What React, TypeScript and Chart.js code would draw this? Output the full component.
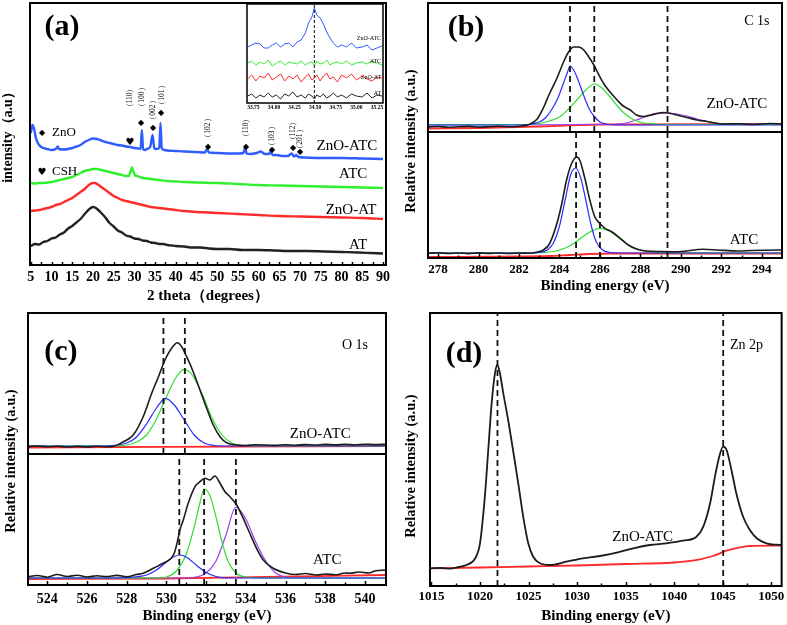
import React, { useEffect, useRef } from "react";
import { Chart, registerables } from "chart.js";
Chart.register(...registerables);

type P = [number, number];

const SERIF = "'Liberation Serif', 'Times New Roman', serif";
const SYM = "'DejaVu Sans', sans-serif";

// ---------------- (a) XRD ----------------
const A_TICKS = [5, 10, 15, 20, 25, 30, 35, 40, 45, 50, 55, 60, 65, 70, 75, 80, 85, 90];
const A_AT: P[] = [[5,19],[6,21],[7,20.5],[8,23],[9,24],[10,26.5],[11,27.5],[12,30.5],[13,32.5],[14,36.5],[15,39],[16,42.5],[17,46],[18,51],[19,55.5],[20,58],[20.5,57.5],[21,56],[22,52],[23,47.5],[24,42],[25,38.5],[26,34.5],[27,32.5],[28,29.5],[29,28.5],[30,26.5],[31,26],[32,24.5],[33,24],[34,22.5],[35,22],[36,21],[37,21],[38,20],[39,19.5],[40,19],[42,18.5],[44,17.5],[46,17.5],[48,16.5],[50,16],[53,16],[56,15],[60,15],[64,14.5],[68,14],[72,14],[76,13.5],[80,13],[84,12.5],[87,12],[90,11.5]];
const A_ZNO_AT: P[] = [[5,54],[6,54.5],[7,55],[8,56],[9,57],[10,58],[11,60],[12,61],[13,63],[14,65],[15,67],[16,70],[17,73],[18,76],[19,80],[20,82],[20.5,82],[21,81],[22,78],[23,75],[24,72],[25,69],[26,67],[27,65],[28,64],[29,63],[30,62],[31,61],[32,60],[33,59],[34,58],[35,57.5],[36,57],[38,56],[40,55],[42,54],[45,53],[48,52.5],[50,52],[55,51],[60,50],[65,49],[70,48.5],[75,48],[80,47.5],[85,47],[90,46]];
const A_ATC: P[] = [[5,82],[6,81.5],[7,82],[8,82],[9,82.5],[10,83],[11,84],[12,85],[13,86],[14,87],[15,88],[16,90],[17,92],[18,94],[19,95],[20,96],[21,96],[22,95],[23,94],[24,93],[25,92],[26,91],[27,90],[28,89],[28.7,89],[29.1,94],[29.4,97.5],[29.7,94],[30.1,90],[30.6,89],[31,88.5],[32,87],[33,86.5],[34,86],[35,85.5],[36,85],[38,84],[40,83.5],[42,83],[45,82.5],[50,82],[55,81],[60,80],[65,79.5],[70,79],[75,78.5],[80,78],[85,77.5],[90,77]];
const A_ZNO_ATC: P[] = [[5,132],[5.4,140],[5.8,136],[6.3,126],[7,120],[8,117],[9,116],[10,115],[11,116],[11.5,118.5],[11.8,116],[13,115.5],[14,116],[15,117],[16,118.5],[17,120],[18,123],[19,125],[20,126.5],[21,126],[22,124.5],[23,123],[24,122],[25,121],[26,120],[27,119.5],[28,118.5],[29,118],[30,117],[31,116.5],[31.5,116],[31.8,135],[32.1,116],[32.5,115],[33,116],[33.8,118],[34.4,130],[34.8,117],[35.3,116],[36,117],[36.3,142],[36.6,117],[37.2,115],[38,114.5],[40,114],[42,113.5],[45,113],[47,112.5],[47.5,116],[48,112.5],[50,112],[53,111.5],[55,111.5],[56.3,112],[56.7,117],[57.1,111.5],[58,111],[59.5,112],[60.5,113.5],[61.5,111],[62.5,111],[62.9,114],[63.3,110],[64,110],[65,109.5],[66,109],[67,109],[68,111.5],[68.5,108.5],[69.1,110],[69.6,108],[71,107.5],[75,107],[80,107],[85,106.5],[90,106]];

// inset
const IN_TICKS = [33.75, 34.0, 34.25, 34.5, 34.75, 35.0, 35.25];
const IN_DASH = [34.49];
const IN_X = [33.68,33.73,33.78,33.83,33.88,33.93,33.98,34.03,34.08,34.13,34.18,34.23,34.28,34.33,34.38,34.42,34.46,34.49,34.52,34.56,34.6,34.64,34.68,34.72,34.77,34.82,34.88,34.94,35.0,35.07,35.13,35.19,35.25,35.31];
const IN_ZNO_ATC = [56,58,60,59,55,55,58,60,56,59,60,56,61,63,70,80,86,95,88,85,79,71,65,60,56,58,56,60,55,56,58,53,55,57];
const IN_ATC = [40,42,38,41,39,43,37,40,42,38,41,40,39,42,38,40,41,37,42,39,40,43,38,40,41,39,42,38,40,41,39,42,40,38];
const IN_ZNO_AT = [24,28,22,27,25,30,23,26,29,22,27,24,28,21,26,29,23,25,28,22,27,30,24,26,21,28,25,29,23,27,24,22,26,25];
const IN_AT = [7,9,5,8,6,10,6,8,4,9,7,11,6,8,5,9,7,4,8,6,9,5,7,10,6,8,5,9,7,6,10,5,8,7];

// ---------------- (b) C 1s ----------------
const B_TICKS = [278, 280, 282, 284, 286, 288, 290, 292, 294];
const B_TOP_DASH = [284.52, 285.72, 289.34];
const B_BOT_DASH = [284.82, 286.0, 289.34];
const B_TOP_SUM: P[] = [[277.5,5],[278,5.5],[278.5,4.8],[279,5.2],[279.5,5.6],[280,4.9],[280.5,5.3],[281,5.7],[281.5,5.2],[282,5.8],[282.5,7.5],[282.9,13],[283.2,24],[283.5,38],[283.9,55],[284.2,70],[284.45,80],[284.7,85],[284.95,85],[285.2,82],[285.45,75],[285.7,67],[285.95,57],[286.2,48],[286.5,40],[286.85,32],[287.15,26],[287.5,22],[287.8,17],[288.15,15.5],[288.5,17],[288.8,18.5],[289.15,19.5],[289.5,18.5],[289.8,17],[290.3,14.5],[290.8,12],[291.3,10.5],[292,8],[292.8,8.3],[293.6,7.5],[294.4,8.5],[295,8]];
const B_TOP_C1: P[] = [[277.5,7],[282,7],[282.5,7.5],[283,10],[283.3,14],[283.6,22],[283.9,33],[284.2,49],[284.4,60],[284.52,66],[284.7,62],[284.9,53],[285.1,42],[285.3,31],[285.5,22],[285.7,16],[286,10],[286.3,8],[286.8,7],[295,7]];
const B_TOP_C2: P[] = [[277.5,7.5],[282.5,7.5],[283,8.5],[283.5,11],[284,15],[284.5,24],[284.9,33],[285.3,42],[285.72,48],[286.1,44],[286.5,35],[286.9,25],[287.3,17],[287.7,12],[288.2,9],[288.8,8],[289.5,7.5],[295,7.5]];
const B_TOP_C3: P[] = [[277.5,7],[286.5,7.5],[287.3,9],[287.8,12],[288.3,15.5],[288.8,18],[289.3,19],[289.8,18],[290.3,16],[290.8,13],[291.3,10.5],[291.9,8.5],[292.5,8],[295,8]];
const B_TOP_BG: P[] = [[277.5,3.5],[280,4],[282,5],[283,5.5],[284,6.2],[285,7],[286,7.5],[288,7.7],[295,7.8]];
const B_BOT_SUM: P[] = [[277.5,4.7],[278,5.2],[278.5,4.5],[279,5],[279.5,4.4],[280,5.1],[280.5,4.6],[281,5],[281.5,4.5],[282,5],[282.5,4.8],[282.9,6],[283.2,8],[283.5,14],[283.85,33],[284.1,53],[284.35,78],[284.6,94.5],[284.85,101],[285.0,98],[285.25,80],[285.5,58],[285.75,41],[286.0,34.5],[286.25,29.7],[286.6,26],[287.0,19.7],[287.4,13],[287.8,9],[288.3,7],[289.0,6.5],[289.5,6.3],[290.2,6.8],[291.1,8.7],[291.8,8],[292.8,7],[293.5,7.5],[294.3,7.8],[295,8]];
const B_BOT_C1: P[] = [[277.5,5],[282.5,5],[283,5.5],[283.4,8],[283.7,15],[284,32],[284.3,60],[284.55,83],[284.8,90],[285.05,80],[285.3,58],[285.55,34],[285.8,17],[286.1,8.5],[286.5,5.5],[287,5],[295,5]];
const B_BOT_C2: P[] = [[277.5,5],[282.5,5],[283.5,6],[284,8],[284.5,12],[285,19],[285.5,26],[286,29.7],[286.5,26.5],[287,19],[287.5,12],[288,8],[288.5,6],[289.5,5],[295,5]];
const B_BOT_BG: P[] = [[277.5,1],[282,1.5],[283.5,2],[284.5,3],[285.5,4],[286.5,4.5],[295,4.5]];

// ---------------- (c) O 1s ----------------
const C_TICKS = [524, 526, 528, 530, 532, 534, 536, 538, 540];
const C_TOP_DASH = [529.85, 530.93];
const C_BOT_DASH = [530.65, 531.9, 533.5];
const C_TOP_SUM: P[] = [[523.03,7.3],[523.5,8],[524,7.2],[524.5,7.8],[525,7],[525.5,7.6],[526,7.1],[526.5,7.7],[527,7.2],[527.3,7.5],[527.83,12.3],[528.33,19],[528.83,37.3],[529.26,60.7],[529.6,77.3],[529.93,94],[530.26,105.7],[530.55,111.3],[530.77,107.3],[531.02,97.3],[531.35,82.3],[531.69,64],[532.03,45.7],[532.36,29],[532.7,17.3],[533.03,11.3],[533.54,9],[534,8.5],[534.5,9.2],[535,9],[535.5,8.6],[536,9.3],[536.5,8.8],[537,9.4],[537.5,9],[538,9.6],[538.5,9.1],[539,9.7],[539.5,9.3],[540,9.8],[540.5,9.4],[541.06,9.7]];
const C_TOP_C1: P[] = [[523.03,8],[526.5,8],[527.5,9],[528,11],[528.5,17],[529,30],[529.5,46],[529.96,55.7],[530.4,49],[530.9,34],[531.4,19],[531.9,11],[532.4,8.5],[533,8],[541.06,8]];
const C_TOP_C2: P[] = [[523.03,8],[527,8],[528,9],[528.5,12],[529,19],[529.5,35],[530,57],[530.5,77],[530.9,84.7],[531.3,79],[531.8,60],[532.3,36],[532.8,19],[533.3,11],[533.8,8.5],[534.5,8],[541.06,8]];
const C_TOP_BG: P[] = [[523.03,6.5],[530,7.2],[541.06,8]];
const C_BOT_SUM: P[] = [[523.03,8.3],[523.5,9.5],[524,7.8],[524.5,10.5],[525,8.5],[525.5,9.8],[526,8],[526.5,9.2],[527,8.4],[527.5,9.6],[528,8.3],[528.5,10.5],[528.83,11.7],[529.34,16.7],[529.84,21.7],[530.2,26],[530.4,32],[530.55,43],[530.68,55],[530.85,65],[531.1,81.7],[531.44,98.3],[531.69,103.3],[531.94,106.7],[532.19,105],[532.44,109],[532.7,101.7],[532.95,93.3],[533.2,88.3],[533.54,80],[533.87,66.7],[534.2,51.7],[534.54,36.7],[534.88,25],[535.38,16.7],[536.05,11.7],[536.5,10.5],[537,11.5],[537.56,10],[538,11],[538.5,10.2],[539,12],[539.24,11.7],[539.7,13],[540.2,12],[540.5,14],[541.06,15]];
const C_BOT_C1: P[] = [[523.03,7],[527,7],[528,7.5],[529,10],[529.5,15],[530,23],[530.4,28.5],[530.68,30],[531,28],[531.5,20],[532,12.5],[532.5,8.5],[533,7],[541.06,7]];
const C_BOT_C2: P[] = [[523.03,7],[529.5,7],[530,8],[530.5,14],[531,31],[531.4,58],[531.7,83],[531.9,96],[532.2,89],[532.5,68],[532.8,43],[533.1,24],[533.5,12],[534,8],[535,7],[541.06,7]];
const C_BOT_C3: P[] = [[523.03,7],[530.5,7],[531.5,8],[532,12],[532.5,24],[533,50],[533.5,78],[534,66],[534.5,43],[535,24],[535.5,12],[536,8],[537,7],[541.06,7]];
const C_BOT_BG: P[] = [[523.03,6],[530,6.5],[535,8],[541.06,10]];

// ---------------- (d) Zn 2p ----------------
const D_TICKS = [1015, 1020, 1025, 1030, 1035, 1040, 1045, 1050];
const D_DASH = [1021.8, 1045.05];
const D_SUM: P[] = [[1014.85,17.7],[1016,18],[1016.9,17.3],[1017.8,19],[1018.6,21],[1019.5,27.7],[1020,42.7],[1020.5,89.3],[1020.85,136],[1021.2,182.7],[1021.54,212.7],[1021.78,221],[1022.05,212.7],[1022.4,192.7],[1022.9,166],[1023.4,136],[1023.94,102.7],[1024.45,69.3],[1024.97,42.7],[1025.48,29.3],[1026.17,22.7],[1027.2,21],[1028.9,24.3],[1030.6,27.7],[1032.35,30],[1034.1,33.3],[1035.8,37.7],[1037.5,41],[1039.2,42.7],[1040.9,45.3],[1042.3,49.3],[1043,59.3],[1043.7,82.7],[1044.2,109.3],[1044.64,129.3],[1045.05,139.3],[1045.4,136],[1045.9,116],[1046.4,92.7],[1047.1,69.3],[1047.8,56],[1048.5,47.7],[1049.5,42.7],[1051.07,41]];
const D_BG: P[] = [[1014.85,17.7],[1020,18.5],[1025,19.5],[1030,20.5],[1035,22],[1040,23.5],[1042.65,26.7],[1044,30],[1045.4,35.3],[1046.8,38.7],[1047.8,40],[1051.07,40.3]];

// ---------------- colours ----------------
const K = "#1c1c1c";
const BLUE = "#2a2aff";
const GREEN = "#30dd30";
const PURPLE = "#9a3cf0";
const RED = "#ff2a2a";

// ---------------- helpers ----------------
const pts = (arr: P[]) => arr.map(([x, y]) => ({ x, y }));
const line = (arr: P[], color: string, width: number, smooth = true) => ({
  data: pts(arr),
  borderColor: color,
  borderWidth: width,
  pointRadius: 0,
  fill: false,
  ...(smooth ? { cubicInterpolationMode: "monotone" } : { tension: 0 }),
});
const zipLine = (xs: number[], ys: number[], color: string, width: number) =>
  line(xs.map((x, i) => [x, ys[i]] as P), color, width, false);
const vlines = (xs: number[], y0: number, y1: number, w = 1.8, dash = [6, 4]) =>
  xs.map((x) => ({
    data: [{ x, y: y0 }, { x, y: y1 }],
    borderColor: "#111",
    borderWidth: w,
    borderDash: dash,
    pointRadius: 0,
    fill: false,
  }));

type Txt = { text: string; x: number; y: number; font: string; align?: CanvasTextAlign; rot?: number; px?: boolean; color?: string };

const decor = (o: { texts?: Txt[]; ticks?: boolean; major?: number; minor?: number; frame?: number }) => ({
  id: "decor",
  afterDatasetsDraw(chart: any) {
    const { ctx, chartArea: a } = chart;
    const xs = chart.scales.x;
    const ys = chart.scales.y;
    ctx.save();
    ctx.strokeStyle = "#000";
    if (o.ticks) {
      const vals: number[] = xs.ticks.map((t: any) => t.value);
      ctx.lineWidth = 1.5;
      const seg = (v: number, len: number) => {
        const p = Math.round(xs.getPixelForValue(v)) + 0.5;
        ctx.beginPath();
        ctx.moveTo(p, a.bottom);
        ctx.lineTo(p, a.bottom - len);
        ctx.stroke();
      };
      vals.forEach((v, i) => {
        seg(v, o.major ?? 4);
        if (i < vals.length - 1) seg((v + vals[i + 1]) / 2, o.minor ?? 3);
      });
    }
    ctx.lineWidth = o.frame ?? 2;
    ctx.strokeRect(a.left, a.top, a.right - a.left, a.bottom - a.top);
    (o.texts || []).forEach((t) => {
      const x = t.px ? t.x : xs.getPixelForValue(t.x);
      const y = t.px ? t.y : ys.getPixelForValue(t.y);
      ctx.save();
      ctx.translate(x, y);
      if (t.rot) ctx.rotate((t.rot * Math.PI) / 180);
      ctx.font = t.font;
      ctx.fillStyle = t.color || "#000";
      ctx.textAlign = t.align || "center";
      ctx.textBaseline = "middle";
      ctx.fillText(t.text, 0, 0);
      ctx.restore();
    });
    ctx.restore();
  },
});

const hiddenAxis = (min: number, max: number) => ({ type: "linear", min, max, display: false });

const bottomAxis = (
  min: number,
  max: number,
  ticks: number[],
  h: number,
  size: number,
  pad: number,
  title: string | null,
  titlePad: number,
  fmt?: (v: number) => string,
  titleSize = 15
) => ({
  type: "linear",
  min,
  max,
  afterBuildTicks: (s: any) => {
    s.ticks = ticks.map((v) => ({ value: v }));
  },
  afterFit: (s: any) => {
    s.height = h;
  },
  grid: { display: false, drawTicks: false },
  border: { display: false },
  ticks: {
    autoSkip: false,
    maxRotation: 0,
    padding: pad,
    color: "#000",
    font: { family: SERIF, size, weight: "bold" },
    callback: (v: any) => (fmt ? fmt(Number(v)) : String(v)),
  },
  title: title
    ? { display: true, text: title, color: "#000", font: { family: SERIF, size: titleSize, weight: "bold" }, padding: { top: 0, bottom: titlePad } }
    : { display: false },
});

const baseCfg = (datasets: any[], pad: any, x: any, y: any, plugin: any) => ({
  type: "line",
  data: { datasets },
  options: {
    responsive: false,
    animation: false,
    devicePixelRatio: 1,
    events: [],
    layout: { padding: pad },
    plugins: { legend: { display: false }, tooltip: { enabled: false } },
    scales: { x, y },
  },
  plugins: [plugin],
});

const F_PANEL = `bold 30px ${SERIF}`;
const F_LAB = `15px ${SERIF}`;
const F_CORE = `14px ${SERIF}`;
const F_YT = `bold 14.5px ${SERIF}`;
const F_PEAK = `7.5px ${SERIF}`;
const F_DIA = `8px ${SYM}`;
const F_HEART = `10px ${SYM}`;
const YTITLE = "Relative intensity (a.u.)";
const XRD_W = 2.4;

// ---------------- chart specs ----------------
const specs = [
  // (a)
  {
    l: 0, t: 0, w: 400, h: 310,
    cfg: () =>
      baseCfg(
        [
          line(A_ZNO_ATC, "#2f5cff", XRD_W),
          line(A_ATC, "#30ee30", XRD_W),
          line(A_ZNO_AT, "#ff2b2b", XRD_W),
          line(A_AT, "#222", XRD_W),
        ],
        { left: 0, right: 14, top: 3, bottom: 0 },
        bottomAxis(4.8, 90.73, A_TICKS, 45, 14, 4, "2 theta（degrees）", 5),
        {
          type: "linear", min: 0, max: 262,
          afterFit: (s: any) => { s.width = 30; },
          ticks: { display: false },
          grid: { display: false, drawTicks: false },
          border: { display: false },
          title: { display: true, text: "intensity（a.u）", color: "#000", font: { family: SERIF, size: 14, weight: "bold" }, padding: { top: 0, bottom: 0 } },
        },
        decor({
          ticks: true, major: 3, minor: 3,
          texts: [
            { text: "(a)", x: 12.52, y: 238, font: F_PANEL },
            { text: "◆", x: 7.7, y: 132, font: F_DIA },
            { text: "ZnO", x: 10.1, y: 132, font: `13px ${SERIF}`, align: "left" },
            { text: "♥", x: 7.7, y: 93, font: F_HEART },
            { text: "CSH", x: 10.1, y: 93, font: `13px ${SERIF}`, align: "left" },
            { text: "ZnO-ATC", x: 81.3, y: 119, font: F_LAB },
            { text: "ATC", x: 82.8, y: 91, font: F_LAB },
            { text: "ZnO-AT", x: 82.3, y: 55, font: F_LAB },
            { text: "AT", x: 84.0, y: 20, font: F_LAB },
            { text: "（110）", x: 28.94, y: 167, font: F_PEAK, rot: -90 },
            { text: "（100）", x: 31.83, y: 168, font: F_PEAK, rot: -90 },
            { text: "（002）", x: 34.49, y: 155, font: F_PEAK, rot: -90 },
            { text: "（101）", x: 36.66, y: 170, font: F_PEAK, rot: -90 },
            { text: "（102）", x: 47.76, y: 137, font: F_PEAK, rot: -90 },
            { text: "（110）", x: 56.94, y: 137, font: F_PEAK, rot: -90 },
            { text: "（103）", x: 63.21, y: 129, font: F_PEAK, rot: -90 },
            { text: "（112）", x: 68.28, y: 134, font: F_PEAK, rot: -90 },
            { text: "（201）", x: 69.97, y: 126, font: F_PEAK, rot: -90 },
            { text: "♥", x: 28.94, y: 123, font: F_HEART },
            { text: "◆", x: 31.59, y: 142, font: F_DIA },
            { text: "◆", x: 34.49, y: 137, font: F_DIA },
            { text: "◆", x: 36.42, y: 152, font: F_DIA },
            { text: "◆", x: 47.76, y: 118, font: F_DIA },
            { text: "◆", x: 56.94, y: 118, font: F_DIA },
            { text: "◆", x: 63.21, y: 115, font: F_DIA },
            { text: "◆", x: 68.28, y: 117, font: F_DIA },
            { text: "◆", x: 69.97, y: 113, font: F_DIA },
          ],
        })
      ),
  },
  // inset
  {
    l: 240, t: 0, w: 150, h: 114,
    cfg: () =>
      baseCfg(
        [
          ...vlines(IN_DASH, 0, 99, 1, [3, 2]),
          zipLine(IN_X, IN_ZNO_ATC, "#2f5cff", 1),
          zipLine(IN_X, IN_ATC, "#30ee30", 1),
          zipLine(IN_X, IN_ZNO_AT, "#ff2b2b", 1),
          zipLine(IN_X, IN_AT, "#222", 1),
        ],
        { left: 7, right: 7, top: 4, bottom: 0 },
        bottomAxis(33.673, 35.323, IN_TICKS, 11, 5.5, 1.5, null, 0, (v) => v.toFixed(2)),
        hiddenAxis(0, 99),
        decor({
          frame: 1.5,
          texts: [
            { text: "ZnO-ATC", x: 35.3, y: 65, font: `6px ${SERIF}`, align: "right" },
            { text: "ATC", x: 35.3, y: 42, font: `6px ${SERIF}`, align: "right" },
            { text: "ZnO-AT", x: 35.3, y: 26, font: `6px ${SERIF}`, align: "right" },
            { text: "AT", x: 35.3, y: 10, font: `6px ${SERIF}`, align: "right" },
          ],
        })
      ),
  },
  // (b) top
  {
    l: 400, t: 0, w: 387, h: 140,
    cfg: () =>
      baseCfg(
        [
          ...vlines(B_TOP_DASH, 0, 129),
          line(B_TOP_SUM, K, 1.6),
          line(B_TOP_C1, BLUE, 1.2),
          line(B_TOP_C2, GREEN, 1.2),
          line(B_TOP_C3, PURPLE, 1.2),
          line(B_TOP_BG, RED, 1.8),
        ],
        { left: 28, right: 5, top: 3, bottom: 8 },
        hiddenAxis(277.5, 295),
        hiddenAxis(0, 129),
        decor({
          texts: [
            { text: "(b)", x: 279.38, y: 104, font: F_PANEL },
            { text: "C 1s", x: 293.76, y: 110.5, font: F_CORE },
            { text: "ZnO-ATC", x: 292.77, y: 28, font: F_LAB },
          ],
        })
      ),
  },
  // (b) bottom
  {
    l: 400, t: 0, w: 387, h: 310,
    cfg: () =>
      baseCfg(
        [
          ...vlines(B_BOT_DASH, 0, 126),
          line(B_BOT_SUM, K, 1.6),
          line(B_BOT_C1, BLUE, 1.2),
          line(B_BOT_C2, GREEN, 1.2),
          line(B_BOT_BG, RED, 1.8),
        ],
        { left: 28, right: 5, top: 132, bottom: 0 },
        bottomAxis(277.5, 295, B_TICKS, 52, 13, 4, "Binding energy (eV)", 15),
        hiddenAxis(0, 126),
        decor({
          ticks: true, major: 4, minor: 2.5,
          texts: [
            { text: "ATC", x: 293.12, y: 18, font: F_LAB },
            { text: YTITLE, x: 11, y: 141, font: F_YT, rot: -90, px: true },
          ],
        })
      ),
  },
  // (c) top
  {
    l: 0, t: 310, w: 400, h: 150,
    cfg: () =>
      baseCfg(
        [
          ...vlines(C_TOP_DASH, 0, 141),
          line(C_TOP_SUM, K, 1.6),
          line(C_TOP_C1, BLUE, 1.2),
          line(C_TOP_C2, GREEN, 1.2),
          line(C_TOP_BG, RED, 1.8),
        ],
        { left: 28, right: 14, top: 3, bottom: 6 },
        hiddenAxis(523.03, 541.06),
        hiddenAxis(0, 141),
        decor({
          texts: [
            { text: "(c)", x: 524.69, y: 102, font: F_PANEL },
            { text: "O 1s", x: 539.5, y: 109, font: F_CORE },
            { text: "ZnO-ATC", x: 537.75, y: 20, font: F_LAB },
          ],
        })
      ),
  },
  // (c) bottom
  {
    l: 0, t: 310, w: 400, h: 315,
    cfg: () =>
      baseCfg(
        [
          ...vlines(C_BOT_DASH, 0, 131),
          line(C_BOT_SUM, K, 1.6),
          line(C_BOT_C1, BLUE, 1.2),
          line(C_BOT_C2, GREEN, 1.2),
          line(C_BOT_C3, PURPLE, 1.2),
          line(C_BOT_BG, RED, 1.8),
        ],
        { left: 28, right: 14, top: 144, bottom: 0 },
        bottomAxis(523.03, 541.06, C_TICKS, 40, 14, 5.6, "Binding energy (eV)", 0),
        hiddenAxis(0, 131),
        decor({
          ticks: true, major: 4, minor: 2.5,
          texts: [
            { text: "ATC", x: 538.1, y: 25, font: F_LAB },
            { text: YTITLE, x: 11, y: 151, font: F_YT, rot: -90, px: true },
          ],
        })
      ),
  },
  // (d)
  {
    l: 400, t: 310, w: 387, h: 315,
    cfg: () =>
      baseCfg(
        [
          ...vlines(D_DASH, 0, 273),
          line(D_SUM, K, 1.8),
          line(D_BG, RED, 1.8),
        ],
        { left: 30, right: 5, top: 3, bottom: 0 },
        bottomAxis(1014.85, 1051.07, D_TICKS, 39, 13, 2.6, "Binding energy (eV)", 0),
        hiddenAxis(0, 273),
        decor({
          ticks: true, major: 4, minor: 2.5,
          texts: [
            { text: "(d)", x: 1018.35, y: 232, font: F_PANEL },
            { text: "Zn 2p", x: 1047.45, y: 241, font: F_CORE },
            { text: "ZnO-ATC", x: 1036.76, y: 49, font: F_LAB },
            { text: YTITLE, x: 11, y: 156, font: F_YT, rot: -90, px: true },
          ],
        })
      ),
  },
];

function ChartBox({ spec }: { spec: any }) {
  const ref = useRef<HTMLCanvasElement>(null);
  useEffect(() => {
    const chart = new Chart(ref.current as HTMLCanvasElement, spec.cfg() as any);
    return () => chart.destroy();
  }, []);
  return (
    <canvas
      ref={ref}
      width={spec.w}
      height={spec.h}
      style={{ position: "absolute", left: spec.l, top: spec.t, width: spec.w, height: spec.h, display: "block" }}
    />
  );
}

export default function App() {
  return (
    <div style={{ position: "absolute", left: 0, top: 0, width: 787, height: 625, background: "#fff", overflow: "hidden" }}>
      {specs.map((s, i) => (
        <ChartBox key={i} spec={s} />
      ))}
    </div>
  );
}
